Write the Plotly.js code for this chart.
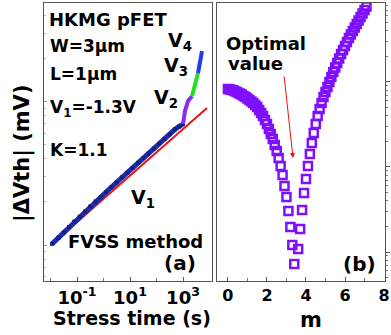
<!DOCTYPE html>
<html>
<head>
<meta charset="utf-8">
<script src="https://cdn.plot.ly/plotly-3.0.1.min.js"></script>
<style>
  html, body { margin: 0; padding: 0; background: #fff; }
  #chart { width: 391px; height: 335px; }
</style>
</head>
<body>
<div id="chart"></div>
<script>
// ---- Panel (a): threshold-voltage shift vs stress time (FVSS) ----
// V1 stress data (s, mV)
const v1Time = [0.0115, 0.020, 0.032, 0.050, 0.079, 0.126, 0.2, 0.316, 0.5, 0.794,
  1.26, 2.0, 3.16, 5.0, 7.94, 12.6, 20, 31.6, 50, 79.4, 126, 200, 316, 501, 708, 1000];
const v1Shift = [1.02, 1.127, 1.227, 1.337, 1.459, 1.578, 1.714, 1.858, 2.014, 2.168,
  2.344, 2.535, 2.742, 2.965, 3.199, 3.451, 3.741, 4.027, 4.355, 4.699, 5.082, 5.495,
  5.929, 6.412, 6.70, 6.98];
// higher stress voltages, mapped onto the V1 time axis
const v2Time = [1000, 1091, 1190, 1545, 2188];
const v2Shift = [6.98, 7.82, 8.61, 10.1, 10.9];
const v3Time = [2188, 2384, 2837, 3681];
const v3Shift = [10.9, 11.5, 13.3, 15.8];
const v4Time = [3681, 4385, 5212];
const v4Shift = [15.8, 19.2, 22.5];
// power-law fit of the V1 segment
const fitTime = [0.0115, 8050];
const fitShift = [1.02, 9.04];
const timeTickVals = [0.1, 10, 1000];
const timeTickText = ['10<sup>-1</sup>', '10<sup>1</sup>', '10<sup>3</sup>'];

// ---- Panel (b): fitting error vs exponent m ----
const mLeft = [0.0, 0.1, 0.2, 0.3, 0.4, 0.5, 0.6, 0.7, 0.8, 0.9, 1.0, 1.1, 1.2, 1.3,
  1.4, 1.5, 1.6, 1.7, 1.8, 1.9, 2.0, 2.1, 2.2, 2.3, 2.4, 2.5, 2.6, 2.7, 2.8, 2.9,
  3.0, 3.1, 3.2, 3.3, 3.4];
const errLeft = [0.827, 0.816, 0.805, 0.794, 0.773, 0.752, 0.732, 0.713, 0.684, 0.666,
  0.639, 0.614, 0.590, 0.566, 0.536, 0.508, 0.468, 0.432, 0.398, 0.357, 0.320, 0.280,
  0.244, 0.2135, 0.1815, 0.1542, 0.1276, 0.1027, 0.0805, 0.0598, 0.0444, 0.0304,
  0.0197, 0.0121, 0.00722];
const mRight = [3.6, 3.7, 3.8, 3.9, 4.0, 4.1, 4.2, 4.3, 4.4, 4.5, 4.6, 4.7, 4.8, 4.9,
  5.0, 5.1, 5.2, 5.3, 5.4, 5.5, 5.6, 5.7, 5.8, 5.9, 6.0, 6.1, 6.2, 6.3, 6.4, 6.5,
  6.6, 6.7, 6.8, 6.9, 7.0, 7.1];
const errRight = [0.01085, 0.01865, 0.0312, 0.0494, 0.0722, 0.1027, 0.1422, 0.1916,
  0.2512, 0.3205, 0.398, 0.4813, 0.566, 0.666, 0.763, 0.873, 1.0, 1.145, 1.311, 1.481,
  1.673, 1.890, 2.135, 2.380, 2.652, 2.955, 3.293, 3.622, 3.981, 4.377, 4.813, 5.291,
  5.818, 6.396, 7.032, 7.731];
const mTickVals = [0, 2, 4, 6, 8];

// ---- layout helpers (pixel -> paper) ----
const W = 391, H = 335;
const px = x => x / W;
const py = y => 1 - y / H;
const FONT = 'DejaVu Sans, Liberation Sans, Arial, sans-serif';
const bold = (size, color) => ({ family: FONT, size: size, weight: 'bold', color: color || '#000' });

const PURPLE = '#7f10fc';

const traces = [
  { x: fitTime, y: fitShift, xaxis: 'x', yaxis: 'y', mode: 'lines',
    line: { color: '#ee1111', width: 2 }, hoverinfo: 'skip' },
  { x: v1Time, y: v1Shift, xaxis: 'x', yaxis: 'y', mode: 'lines+markers',
    line: { color: '#1d2ea6', width: 5 }, marker: { color: '#14208a', size: 4, symbol: 'square' } },
  { x: v2Time, y: v2Shift, xaxis: 'x', yaxis: 'y', mode: 'lines',
    line: { color: '#8a2cf0', width: 4 } },
  { x: v3Time, y: v3Shift, xaxis: 'x', yaxis: 'y', mode: 'lines',
    line: { color: '#22e022', width: 4 } },
  { x: v4Time, y: v4Shift, xaxis: 'x', yaxis: 'y', mode: 'lines',
    line: { color: '#1f3cf5', width: 4 } },
  { x: mLeft, y: errLeft, xaxis: 'x2', yaxis: 'y2', mode: 'markers',
    marker: { symbol: 'square-open', size: 8, color: PURPLE, line: { width: 2.5, color: PURPLE } } },
  { x: mRight, y: errRight, xaxis: 'x2', yaxis: 'y2', mode: 'markers',
    marker: { symbol: 'square-open', size: 8, color: PURPLE, line: { width: 2.5, color: PURPLE } } }
];

const yDomain = [1 - 281 / H, 1 - 3 / H];
const frame = { showline: true, mirror: true, linecolor: '#555', linewidth: 1,
  showgrid: false, zeroline: false };

const ann = (text, x, y, size, opts) => Object.assign({
  text: text, xref: 'paper', yref: 'paper', x: px(x), y: py(y),
  xanchor: 'left', yanchor: 'middle', showarrow: false, font: bold(size)
}, opts || {});

const layout = {
  width: W, height: H,
  margin: { l: 0, r: 0, t: 0, b: 0 },
  paper_bgcolor: '#fff', plot_bgcolor: '#fff',
  showlegend: false,
  xaxis: Object.assign({}, frame, {
    type: 'log', range: [-2.245, 4.094], domain: [px(44), px(212)], anchor: 'y',
    tickmode: 'array', tickvals: timeTickVals, ticktext: timeTickText,
    ticks: 'inside', ticklen: 4, tickcolor: '#555', tickfont: bold(18),
    minor: { tickmode: 'array', tickvals: [0.01, 1, 100], ticks: 'inside', ticklen: 3, tickcolor: '#777' }
  }),
  yaxis: Object.assign({}, frame, {
    type: 'log', range: [-0.25, 1.687], domain: yDomain, anchor: 'x',
    showticklabels: false, ticks: 'inside', ticklen: 3, tickcolor: '#999', dtick: 1,
    minor: { dtick: 'D1', ticks: 'inside', ticklen: 2, tickcolor: '#bbb' }
  }),
  xaxis2: Object.assign({}, frame, {
    range: [-0.56, 8.05], domain: [px(217), px(385)], anchor: 'y2',
    tickmode: 'array', tickvals: mTickVals,
    ticks: 'inside', ticklen: 4, tickcolor: '#555', tickfont: bold(16),
    minor: { dtick: 1, tick0: 0, ticks: 'inside', ticklen: 3, tickcolor: '#777' }
  }),
  yaxis2: Object.assign({}, frame, {
    type: 'log', range: [-2.341, 0.929], domain: yDomain, anchor: 'x2', side: 'right',
    showticklabels: false, ticks: 'outside', ticklen: 4, tickcolor: '#555', dtick: 1,
    minor: { dtick: 'D1', ticks: 'outside', ticklen: 2, tickcolor: '#777' }
  }),
  annotations: [
    ann('HKMG pFET', 47, 20, 18),
    ann('W=3\u03bcm', 48, 46.5, 17),
    ann('L=1\u03bcm', 48, 74, 17),
    ann('V<sub>1</sub>=-1.3V', 48, 108, 17),
    ann('K=1.1', 48, 149.5, 17),
    ann('V<sub>4</sub>', 166, 42, 19),
    ann('V<sub>3</sub>', 162, 67, 19),
    ann('V<sub>2</sub>', 152, 98, 19),
    ann('V<sub>1</sub>', 129, 198, 19),
    ann('FVSS method', 66, 241, 18),
    ann('(a)', 198, 262.5, 20, { xanchor: 'right' }),
    ann('Optimal', 224, 43.5, 18),
    ann('value', 226, 63, 18),
    ann('(b)', 378, 264, 20, { xanchor: 'right' }),
    ann('Stress time (s)', 132, 318, 19, { xanchor: 'center' }),
    ann('m', 311, 320, 21, { xanchor: 'center' }),
    ann('|\u0394Vth| (mV)', 22, 154, 21, { xanchor: 'center', textangle: -90 }),
    // arrow pointing at the minimum of the error curve
    { text: '', xref: 'paper', yref: 'paper', x: px(293), y: py(158),
      ax: -9, ay: -83, showarrow: true, arrowcolor: '#ee1111', arrowwidth: 1,
      arrowhead: 2, arrowsize: 1 }
  ]
};

Plotly.newPlot('chart', traces, layout, { staticPlot: true, displayModeBar: false });
</script>
</body>
</html>
